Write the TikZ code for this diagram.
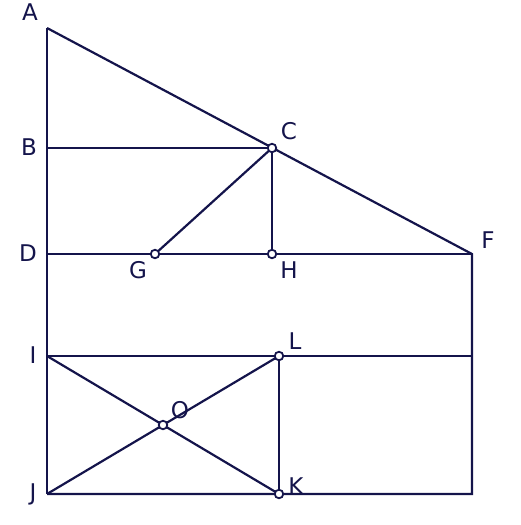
\documentclass[tikz,border=0pt]{standalone}
\usepackage{fontspec}
\setmainfont{DejaVu Sans}
\definecolor{ink}{HTML}{14144B}
\begin{document}
\begin{tikzpicture}[x=1pt,y=-1pt,
  seg/.style={draw=ink,line width=2.2pt},
  pt/.style={circle,draw=ink,fill=white,line width=1.8pt,inner sep=0pt,minimum size=8.5pt},
  lbl/.style={text=ink,font=\fontsize{23}{27}\selectfont,inner sep=0pt}]
\useasboundingbox (0,0) rectangle (520,525);
\coordinate (A) at (47,28);
\coordinate (B) at (47,148);
\coordinate (C) at (272,148);
\coordinate (D) at (47,254);
\coordinate (F) at (472,254);
\coordinate (G) at (155,254);
\coordinate (H) at (272,254);
\coordinate (I) at (47,356);
\coordinate (L) at (279,356);
\coordinate (J) at (47,494);
\coordinate (K) at (279,494);
\coordinate (O) at (163,425);
\coordinate (IR) at (472,356);
\coordinate (JR) at (472,494);
\draw[seg] (A) -- (J);
\draw[seg] (A) -- (F) -- (JR) -- (J);
\draw[seg] (B) -- (C) -- (H);
\draw[seg] (C) -- (G);
\draw[seg] (D) -- (F);
\draw[seg] (I) -- (IR);
\draw[seg] (L) -- (K);
\draw[seg] (I) -- (K);
\draw[seg] (J) -- (L);
\foreach \p in {C,G,H,L,O,K} \node[pt] (p\p) at (\p) {};
\node[lbl] (tA) at (30,12) {A};
\node[lbl] (tB) at (29,147) {B};
\node[lbl] (tC) at (289,131) {C};
\node[lbl] (tD) at (28,253) {D};
\node[lbl] (tF) at (488,240) {F};
\node[lbl] (tG) at (138,270) {G};
\node[lbl] (tH) at (289,270) {H};
\node[lbl] (tI) at (33,355) {I};
\node[lbl] (tL) at (295,341) {L};
\node[lbl] (tO) at (180,410) {O};
\node[lbl] (tJ) at (33,494) {J};
\node[lbl] (tK) at (296,486) {K};
\end{tikzpicture}
\end{document}
